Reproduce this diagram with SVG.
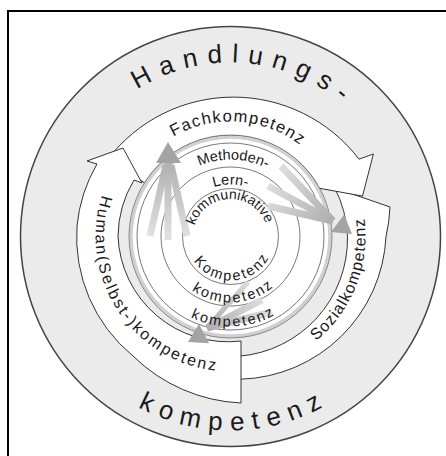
<svg xmlns="http://www.w3.org/2000/svg" width="446" height="456" viewBox="0 0 446 456">
  <style>
    .band { fill: #fff; stroke: #333; stroke-width: 1; stroke-linejoin: miter; }
    .ring { fill: none; stroke: #555; stroke-width: 0.8; }
    text { font-family: "Liberation Sans", Arial, sans-serif; fill: #1a1a1a; text-anchor: middle; }
    .big { font-size: 26px; letter-spacing: 9.4px; }
    .mid { font-size: 16px; }
    .small { font-size: 14px; }
    .low { font-size: 14.5px; letter-spacing: 2px; }
    .fan { fill: none; stroke-width: 7; stroke-linecap: butt; }
  </style>
  <defs>
    <!-- text baselines, centred at the top (clockwise) or bottom (counter-clockwise) -->
    <path id="t174" d="M200.29,407.86 A174,174 0 1 1 260.71,407.86"/>
    <path id="b194" d="M196.81,45.45 A194,194 0 1 0 264.19,45.45"/>
    <path id="t115" d="M210.53,349.75 A115,115 0 1 1 250.47,349.75"/>
    <path id="b135" d="M207.06,103.55 A135,135 0 1 0 253.94,103.55"/>
    <path id="t77" d="M217.13,312.33 A77,77 0 1 1 243.87,312.33"/>
    <path id="t52" d="M221.47,287.71 A52,52 0 1 1 239.53,287.71"/>
    <path id="t37" d="M223.99,273.43 A37.5,37.5 0 1 1 237.01,273.43"/>
    <path id="b44" d="M222.86,193.17 A44,44 0 1 0 238.14,193.17"/>
    <path id="b66" d="M219.04,171.50 A66,66 0 1 0 241.96,171.50"/>
    <path id="b90" d="M214.87,147.87 A90,90 0 1 0 246.13,147.87"/>
    <linearGradient id="gUp" gradientUnits="userSpaceOnUse" x1="0" y1="240" x2="0" y2="150">
      <stop offset="0" stop-color="#e2e2e2"/>
      <stop offset="1" stop-color="#a9a9a9"/>
    </linearGradient>
    <linearGradient id="gRight" gradientUnits="userSpaceOnUse" x1="265" y1="180" x2="340" y2="225">
      <stop offset="0" stop-color="#e2e2e2"/>
      <stop offset="1" stop-color="#a9a9a9"/>
    </linearGradient>
    <linearGradient id="gDown" gradientUnits="userSpaceOnUse" x1="270" y1="300" x2="200" y2="332">
      <stop offset="0" stop-color="#e2e2e2"/>
      <stop offset="1" stop-color="#a9a9a9"/>
    </linearGradient>
  </defs>

  <rect width="446" height="456" fill="#fff"/>
  <path d="M8,456 V11 H446" fill="none" stroke="#000" stroke-width="2"/>

  <!-- outer ring: Handlungskompetenz -->
  <g id="handlungskompetenz">
    <circle cx="230.5" cy="236.5" r="210" fill="#ebebeb" stroke="#444" stroke-width="1.5"/>
    <text class="big" transform="rotate(5 230.5 236.5)"><textPath href="#t174" startOffset="50%">Handlungs-</textPath></text>
    <text class="big" style="letter-spacing:8.2px" transform="rotate(-1.2 230.5 236.5)"><textPath href="#b194" startOffset="50%">kompetenz</textPath></text>
  </g>

  <!-- three curved block arrows -->
  <g id="sozialkompetenz">
    <path class="band" d="M334.7,187.9 L390,207 A160,160 0 0 1 386,236.5 A150,150 0 0 1 240.5,379.2 A143,143 0 0 1 205.7,377.3 L209.7,354.7 A118,118 0 0 0 238.9,356.2 A118,118 0 0 0 347.5,236.5 A116,116 0 0 0 334.7,187.9 Z"/>
    <text class="mid" style="letter-spacing:1.1px" transform="rotate(-68.7 230.5 236.5)"><textPath href="#b135" startOffset="50%">Sozialkompetenz</textPath></text>
  </g>
  <g id="fachkompetenz">
    <path class="band" d="M107.5,159.7 A158,158 0 0 1 359,159.2 L373.4,154 L362.5,196.1 L315.4,187.5 L317.1,184.5 A101,101 0 0 0 144.9,183 Z"/>
    <text class="mid" style="font-size:16.5px;letter-spacing:1.4px" transform="rotate(4 230.5 236.5)"><textPath href="#t115" startOffset="50%">Fachkompetenz</textPath></text>
  </g>
  <g id="humankompetenz">
    <path class="band" d="M241,341 L241,403 A165,165 0 0 1 133,356 A154,154 0 0 1 77,226 A152,152 0 0 1 97,164 L87,161 L123,148 L142,183 L134,180 A112,112 0 0 0 118,236 A110,110 0 0 0 241,341 Z"/>
    <text class="mid" style="letter-spacing:2.2px" transform="rotate(56.7 230.5 236.5)"><textPath href="#b135" startOffset="50%">Human(Selbst-)kompetenz</textPath></text>
  </g>

  <!-- inner core: grey ring and nested circles -->
  <g id="kern">
    <circle cx="230.5" cy="236.5" r="99.5" fill="#fff" stroke="#d0d0d0" stroke-width="3.5"/>
    <circle cx="230.5" cy="236.5" r="101.5" fill="none" stroke="#707070" stroke-width="0.8"/>
    <circle class="ring" cx="230.5" cy="236.5" r="93.5"/>
    <circle class="ring" cx="230.5" cy="236.5" r="69.5"/>
    <circle class="ring" cx="230.5" cy="236.5" r="48"/>
  </g>

  <!-- grey fan arrows from the core to the three bands -->
  <g id="connectors">
    <g stroke="url(#gUp)" class="fan">
      <path d="M150,236 L166,165"/>
      <path d="M168,240 L168,162"/>
      <path d="M187,236 L171,165"/>
    </g>
    <polygon points="156,163 181,163 168,142" fill="#a4a4a4"/>
    <g stroke="url(#gRight)" class="fan">
      <path d="M281,166 L333,221"/>
      <path d="M268,186 L333,221"/>
      <path d="M268,206 L333,221"/>
    </g>
    <polygon points="331,232 344.2,214.4 352,234" fill="#a4a4a4"/>
    <g stroke="url(#gDown)" class="fan">
      <path d="M248,282 L207,328" stroke-width="5"/>
      <path d="M262,300 L207,328"/>
      <path d="M272,312 L207,328"/>
    </g>
    <polygon points="209.1,343.3 198.9,323.9 188,342" fill="#a4a4a4"/>
  </g>

  <!-- labels of the nested core circles -->
  <g id="methodenkompetenz">
    <text class="small" style="font-size:14.5px" transform="rotate(2 230.5 236.5)"><textPath href="#t77" startOffset="50%">Methoden-</textPath></text>
    <text class="low" transform="rotate(-2 230.5 236.5)"><textPath href="#b90" startOffset="50%">kompetenz</textPath></text>
  </g>
  <g id="lernkompetenz">
    <text class="small" style="font-size:14.5px"><textPath href="#t52" startOffset="50%">Lern-</textPath></text>
    <text class="low" transform="rotate(-3 230.5 236.5)"><textPath href="#b66" startOffset="50%">kompetenz</textPath></text>
  </g>
  <g id="kommunikative-kompetenz">
    <text class="small" transform="rotate(-1.4 230.5 236.5)"><textPath href="#t37" startOffset="50%">kommunikative</textPath></text>
    <text class="low" transform="rotate(-3.2 230.5 236.5)"><textPath href="#b44" startOffset="50%">Kompetenz</textPath></text>
  </g>
</svg>
